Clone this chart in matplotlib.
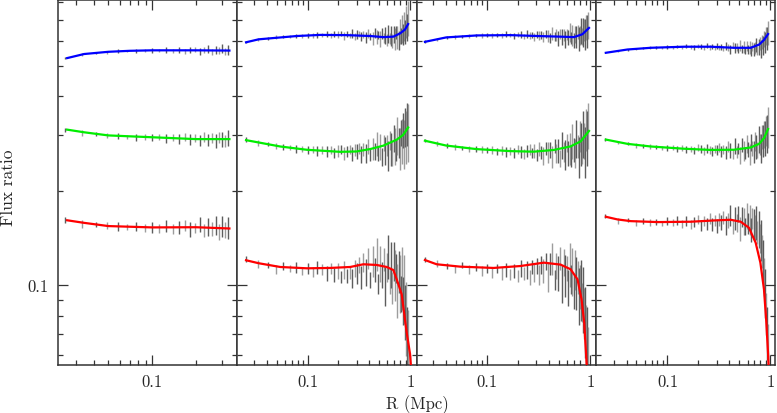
import matplotlib
matplotlib.use('Agg')
import matplotlib.pyplot as plt
import numpy as np
from matplotlib.ticker import LogLocator, NullFormatter, FuncFormatter

plt.rcParams['font.family'] = ['cmr10', 'DejaVu Serif']
plt.rcParams['axes.formatter.use_mathtext'] = True

# radial bins (Mpc); panel 1 only uses the first 25
R_BINS = [0.025, 0.033, 0.041, 0.049, 0.058, 0.067, 0.078, 0.089, 0.100,
          0.112, 0.125, 0.139, 0.153, 0.168, 0.183, 0.198, 0.213, 0.228, 0.243,
          0.258, 0.273, 0.288, 0.303, 0.318, 0.333,
          0.35, 0.37, 0.39, 0.41, 0.43, 0.45, 0.47, 0.49, 0.51, 0.53, 0.55,
          0.57, 0.59, 0.61, 0.63, 0.65, 0.67, 0.69, 0.71, 0.73, 0.75, 0.77,
          0.79, 0.81, 0.83, 0.85, 0.87, 0.89, 0.91, 0.93, 0.95]

# error half-size in dex (green scale), one list per panel
ERR_P1 = [0.007, 0.009, 0.006, 0.008, 0.010, 0.007, 0.011, 0.009, 0.012, 0.010, 0.014, 0.011, 0.015,
          0.013, 0.017, 0.012, 0.018, 0.015, 0.020, 0.016, 0.022, 0.018, 0.024, 0.019, 0.025]
ERR_P2 = [0.007, 0.009, 0.006, 0.010, 0.009, 0.008, 0.012, 0.010, 0.013, 0.011, 0.015, 0.012, 0.017,
          0.013, 0.016, 0.019, 0.014, 0.021, 0.017, 0.015, 0.022, 0.019, 0.024, 0.018, 0.026,
          0.021, 0.031, 0.024, 0.019, 0.035, 0.027, 0.038, 0.023, 0.041, 0.030, 0.026, 0.045, 0.033,
          0.049, 0.029, 0.052, 0.037, 0.044, 0.058, 0.034, 0.061, 0.048, 0.066, 0.041, 0.072, 0.055,
          0.078, 0.063, 0.085, 0.070, 0.092]
ERR_P3 = [0.006, 0.008, 0.007, 0.009, 0.007, 0.010, 0.009, 0.011, 0.010, 0.013, 0.011, 0.014, 0.016,
          0.012, 0.017, 0.014, 0.019, 0.015, 0.020, 0.017, 0.016, 0.022, 0.018, 0.023, 0.020,
          0.028, 0.020, 0.033, 0.025, 0.036, 0.022, 0.030, 0.039, 0.026, 0.043, 0.031, 0.047, 0.028,
          0.040, 0.051, 0.033, 0.055, 0.039, 0.046, 0.060, 0.037, 0.064, 0.050, 0.069, 0.044, 0.075,
          0.058, 0.081, 0.066, 0.088, 0.074]
ERR_P4 = [0.005, 0.006, 0.005, 0.007, 0.006, 0.008, 0.007, 0.006, 0.009, 0.008, 0.010, 0.009, 0.011,
          0.010, 0.012, 0.011, 0.013, 0.012, 0.014, 0.013, 0.015, 0.012, 0.016, 0.014, 0.017,
          0.015, 0.021, 0.017, 0.024, 0.016, 0.026, 0.020, 0.018, 0.028, 0.022, 0.031, 0.019, 0.029,
          0.024, 0.034, 0.027, 0.023, 0.036, 0.030, 0.039, 0.026, 0.042, 0.033, 0.046, 0.038, 0.050,
          0.043, 0.055, 0.048, 0.060, 0.065]
ERR_SCALE = {'blue': 0.6, 'green': 1.0, 'red': 1.4}

# measured flux ratios (bin centres)
P1_BLUE = [0.530, 0.543, 0.549, 0.553, 0.556, 0.557, 0.558, 0.559, 0.560, 0.559, 0.561, 0.558, 0.562,
           0.557, 0.561, 0.563, 0.556, 0.560, 0.565, 0.555, 0.562, 0.559, 0.566, 0.554, 0.561]
P1_GREEN = [0.312, 0.306, 0.303, 0.300, 0.298, 0.297, 0.296, 0.297, 0.295, 0.296, 0.294, 0.295, 0.292,
            0.296, 0.291, 0.294, 0.289, 0.297, 0.290, 0.295, 0.288, 0.296, 0.291, 0.287, 0.294]
P1_RED = [0.161, 0.157, 0.156, 0.155, 0.154, 0.153, 0.154, 0.152, 0.153, 0.152, 0.154, 0.151, 0.153,
          0.155, 0.150, 0.152, 0.156, 0.149, 0.153, 0.151, 0.155, 0.148, 0.154, 0.150, 0.152]

P2_BLUE = [0.595, 0.606, 0.611, 0.616, 0.619, 0.621, 0.623, 0.622, 0.626,
           0.624, 0.628, 0.626, 0.630, 0.623, 0.629, 0.627, 0.632, 0.621, 0.630, 0.625, 0.633, 0.619,
           0.628, 0.631, 0.620,
           0.629, 0.615, 0.634, 0.620, 0.612, 0.636, 0.618, 0.627, 0.608, 0.633, 0.614, 0.625, 0.603,
           0.630, 0.611, 0.622, 0.598, 0.628, 0.609, 0.637, 0.615, 0.602, 0.641, 0.622, 0.655, 0.630,
           0.668, 0.641, 0.690, 0.662, 0.706]
P2_GREEN = [0.291, 0.284, 0.281, 0.277, 0.276, 0.274, 0.272, 0.271, 0.270,
            0.271, 0.268, 0.270, 0.266, 0.269, 0.264, 0.268, 0.270, 0.263, 0.267, 0.271, 0.262, 0.269,
            0.266, 0.273, 0.261,
            0.270, 0.263, 0.276, 0.259, 0.272, 0.266, 0.281, 0.262, 0.275, 0.256, 0.284, 0.268, 0.279,
            0.258, 0.289, 0.271, 0.262, 0.293, 0.277, 0.268, 0.298, 0.283, 0.272, 0.305, 0.287, 0.311,
            0.280, 0.318, 0.296, 0.325, 0.305]
P2_RED = [0.121, 0.117, 0.116, 0.112, 0.115, 0.113, 0.114, 0.111, 0.113,
          0.110, 0.114, 0.112, 0.109, 0.113, 0.108, 0.111, 0.106, 0.112, 0.107, 0.110, 0.105, 0.113,
          0.109, 0.116, 0.106,
          0.118, 0.110, 0.122, 0.104, 0.119, 0.112, 0.125, 0.101, 0.117, 0.108, 0.121, 0.099, 0.114,
          0.123, 0.103, 0.116, 0.098, 0.119, 0.107, 0.113, 0.096, 0.110, 0.101, 0.094, 0.105, 0.089,
          0.097, 0.082, 0.078, 0.068, 0.062]

P3_BLUE = [0.597, 0.607, 0.614, 0.618, 0.621, 0.622, 0.625, 0.624, 0.627,
           0.625, 0.628, 0.624, 0.630, 0.626, 0.622, 0.629, 0.627, 0.620, 0.631, 0.624, 0.628, 0.619,
           0.630, 0.623, 0.626,
           0.617, 0.631, 0.622, 0.613, 0.634, 0.620, 0.626, 0.610, 0.632, 0.618, 0.627, 0.606, 0.629,
           0.615, 0.637, 0.612, 0.624, 0.603, 0.630, 0.617, 0.640, 0.609, 0.626, 0.645, 0.620, 0.638,
           0.651, 0.628, 0.662, 0.643, 0.672]
P3_GREEN = [0.289, 0.283, 0.279, 0.276, 0.274, 0.272, 0.271, 0.270, 0.269,
            0.270, 0.267, 0.269, 0.265, 0.268, 0.264, 0.270, 0.266, 0.262, 0.268, 0.271, 0.263, 0.267,
            0.260, 0.272, 0.265,
            0.258, 0.273, 0.264, 0.270, 0.256, 0.277, 0.262, 0.268, 0.253, 0.279, 0.266, 0.260, 0.284,
            0.263, 0.271, 0.257, 0.287, 0.270, 0.262, 0.292, 0.276, 0.255, 0.297, 0.281, 0.270, 0.302,
            0.288, 0.265, 0.312, 0.294, 0.322]
P3_RED = [0.121, 0.117, 0.115, 0.113, 0.116, 0.112, 0.114, 0.111, 0.113,
          0.110, 0.113, 0.109, 0.112, 0.108, 0.111, 0.107, 0.113, 0.109, 0.112, 0.106, 0.114, 0.110,
          0.115, 0.108, 0.116,
          0.111, 0.119, 0.106, 0.117, 0.121, 0.104, 0.115, 0.109, 0.122, 0.101, 0.118, 0.107, 0.113,
          0.098, 0.116, 0.104, 0.110, 0.095, 0.112, 0.101, 0.106, 0.092, 0.099, 0.096, 0.088, 0.090,
          0.081, 0.076, 0.070, 0.064, 0.058]

P4_BLUE = [0.551, 0.557, 0.563, 0.566, 0.569, 0.570, 0.572, 0.571, 0.574,
           0.573, 0.576, 0.572, 0.577, 0.574, 0.571, 0.578, 0.575, 0.570, 0.579, 0.573, 0.576, 0.569,
           0.578, 0.572, 0.575,
           0.568, 0.579, 0.571, 0.564, 0.582, 0.569, 0.574, 0.561, 0.580, 0.566, 0.575, 0.559, 0.578,
           0.565, 0.573, 0.556, 0.577, 0.563, 0.570, 0.582, 0.559, 0.574, 0.588, 0.566, 0.595, 0.580,
           0.607, 0.592, 0.620, 0.611, 0.636]
P4_GREEN = [0.291, 0.285, 0.282, 0.279, 0.277, 0.276, 0.275, 0.274, 0.273,
            0.274, 0.272, 0.273, 0.270, 0.272, 0.269, 0.274, 0.271, 0.268, 0.273, 0.270, 0.267, 0.272,
            0.269, 0.275, 0.266,
            0.271, 0.264, 0.276, 0.268, 0.262, 0.278, 0.266, 0.273, 0.259, 0.279, 0.268, 0.263, 0.282,
            0.270, 0.261, 0.284, 0.273, 0.266, 0.287, 0.276, 0.269, 0.291, 0.280, 0.272, 0.296, 0.288,
            0.301, 0.293, 0.309, 0.303, 0.318]
P4_RED = [0.166, 0.160, 0.161, 0.158, 0.160, 0.158, 0.159, 0.157, 0.160,
          0.158, 0.161, 0.157, 0.160, 0.156, 0.159, 0.162, 0.155, 0.160, 0.157, 0.163, 0.156, 0.161,
          0.154, 0.162, 0.158,
          0.164, 0.155, 0.161, 0.167, 0.153, 0.163, 0.158, 0.169, 0.151, 0.165, 0.160, 0.154, 0.166,
          0.157, 0.161, 0.150, 0.163, 0.156, 0.152, 0.158, 0.147, 0.150, 0.141, 0.139, 0.128, 0.119,
          0.106, 0.094, 0.081, 0.070, 0.061]

# model curves: radius nodes and values
FIT_P1_BLUE_R = [0.026, 0.034, 0.05, 0.07, 0.1, 0.2, 0.34]
FIT_P1_BLUE = [0.529, 0.545, 0.554, 0.558, 0.560, 0.560, 0.559]
FIT_P1_GREEN_R = [0.026, 0.034, 0.05, 0.1, 0.2, 0.34]
FIT_P1_GREEN = [0.313, 0.307, 0.300, 0.296, 0.292, 0.292]
FIT_P1_RED_R = [0.026, 0.034, 0.05, 0.1, 0.2, 0.34]
FIT_P1_RED = [0.161, 0.158, 0.1543, 0.1528, 0.153, 0.1516]

FIT_P2_BLUE_R = [0.0252, 0.0334, 0.0789, 0.133, 0.241, 0.406, 0.547, 0.684, 0.795, 0.888, 0.953]
FIT_P2_BLUE = [0.594, 0.607, 0.622, 0.627, 0.626, 0.622, 0.617, 0.619, 0.634, 0.652, 0.679]
FIT_P2_GREEN_R = [0.0252, 0.0334, 0.0543, 0.0987, 0.208, 0.30, 0.406, 0.547, 0.738, 0.855, 0.953]
FIT_P2_GREEN = [0.2898, 0.2849, 0.2766, 0.270, 0.266, 0.2667, 0.2714, 0.2783, 0.2908, 0.3014, 0.318]
FIT_P2_RED_R = [0.0252, 0.0334, 0.0543, 0.0987, 0.166, 0.26, 0.35, 0.472, 0.59, 0.684, 0.738,
                0.825, 0.922, 0.995, 1.02]
FIT_P2_RED = [0.1201, 0.1175, 0.1143, 0.1132, 0.1135, 0.1143, 0.1166, 0.116, 0.1143, 0.1118, 0.1044,
              0.0936, 0.0708, 0.0604, 0.054]

FIT_P3_BLUE_R = [0.0252, 0.0404, 0.08, 0.168, 0.306, 0.515, 0.693, 0.835, 0.968]
FIT_P3_BLUE = [0.596, 0.6156, 0.6246, 0.626, 0.622, 0.619, 0.617, 0.630, 0.660]
FIT_P3_GREEN_R = [0.0252, 0.0404, 0.08, 0.168, 0.283, 0.443, 0.643, 0.806, 0.968]
FIT_P3_GREEN = [0.2886, 0.2785, 0.2713, 0.2674, 0.2663, 0.2697, 0.2768, 0.2873, 0.310]
FIT_P3_RED_R = [0.0252, 0.0327, 0.0551, 0.116, 0.21, 0.355, 0.515, 0.643, 0.75, 0.82, 0.87, 0.915, 0.93]
FIT_P3_RED = [0.1203, 0.1166, 0.1146, 0.1135, 0.1151, 0.118, 0.1163, 0.1124, 0.1044, 0.0903, 0.0761,
              0.0575, 0.052]

FIT_P4_BLUE_R = [0.0252, 0.0409, 0.0689, 0.145, 0.263, 0.443, 0.644, 0.777, 0.867, 0.95]
FIT_P4_BLUE = [0.550, 0.5634, 0.5705, 0.575, 0.575, 0.5705, 0.5705, 0.584, 0.604, 0.631]
FIT_P4_GREEN_R = [0.0252, 0.0409, 0.0689, 0.145, 0.263, 0.443, 0.644, 0.777, 0.867, 0.95]
FIT_P4_GREEN = [0.291, 0.282, 0.2766, 0.2721, 0.2697, 0.2701, 0.2746, 0.282, 0.2938, 0.3144]
FIT_P4_RED_R = [0.0252, 0.0327, 0.044, 0.08, 0.168, 0.284, 0.412, 0.515, 0.62, 0.72, 0.80, 0.867,
                0.91, 0.953, 0.965]
FIT_P4_RED = [0.1652, 0.162, 0.160, 0.1589, 0.1593, 0.1608, 0.1616, 0.1593, 0.1524, 0.1366, 0.118,
              0.0971, 0.078, 0.0597, 0.054]

XLIMS = [(0.0225, 0.385), (0.0207, 1.15), (0.0209, 1.125), (0.0201, 1.11)]
YLIM = (0.0557, 0.81)
LINE_COLORS = {'blue': '#0000ff', 'green': '#00ee00', 'red': '#ff0000'}
BAR_SHADES = ['0.25', '0.55']

panels = [
    (ERR_P1, {'blue': P1_BLUE, 'green': P1_GREEN, 'red': P1_RED},
     {'blue': (FIT_P1_BLUE_R, FIT_P1_BLUE), 'green': (FIT_P1_GREEN_R, FIT_P1_GREEN),
      'red': (FIT_P1_RED_R, FIT_P1_RED)}),
    (ERR_P2, {'blue': P2_BLUE, 'green': P2_GREEN, 'red': P2_RED},
     {'blue': (FIT_P2_BLUE_R, FIT_P2_BLUE), 'green': (FIT_P2_GREEN_R, FIT_P2_GREEN),
      'red': (FIT_P2_RED_R, FIT_P2_RED)}),
    (ERR_P3, {'blue': P3_BLUE, 'green': P3_GREEN, 'red': P3_RED},
     {'blue': (FIT_P3_BLUE_R, FIT_P3_BLUE), 'green': (FIT_P3_GREEN_R, FIT_P3_GREEN),
      'red': (FIT_P3_RED_R, FIT_P3_RED)}),
    (ERR_P4, {'blue': P4_BLUE, 'green': P4_GREEN, 'red': P4_RED},
     {'blue': (FIT_P4_BLUE_R, FIT_P4_BLUE), 'green': (FIT_P4_GREEN_R, FIT_P4_GREEN),
      'red': (FIT_P4_RED_R, FIT_P4_RED)}),
]

fig, axes = plt.subplots(1, 4, figsize=(7.77, 4.14), dpi=100, sharey=True)
fig.subplots_adjust(left=58/777, right=775/777, bottom=1-366/414, top=1-1/414, wspace=0)

fmt = FuncFormatter(lambda v, p: '%g' % v)

for i, (ax, (err, meas, fits)) in enumerate(zip(axes, panels)):
    ax.set_xscale('log')
    ax.set_yscale('log')
    for name in ['blue', 'green', 'red']:
        c = np.array(meas[name])
        r = np.array(R_BINS[:len(c)])
        e = np.array(err[:len(c)]) * ERR_SCALE[name]
        shades = [BAR_SHADES[k % 2] for k in range(len(c))]
        ax.vlines(r, c * 10**(-e), c * 10**e, colors=shades, alpha=0.85, lw=1.0, zorder=2)
    for name in ['blue', 'green', 'red']:
        fr, fv = fits[name]
        ax.plot(fr, fv, color=LINE_COLORS[name], lw=1.6, zorder=3)

    ax.set_xlim(*XLIMS[i])
    ax.set_ylim(*YLIM)
    for axis in (ax.xaxis, ax.yaxis):
        axis.set_major_locator(LogLocator(base=10, numticks=10))
        axis.set_minor_locator(LogLocator(base=10, subs=np.arange(2, 10), numticks=20))
        axis.set_major_formatter(fmt)
        axis.set_minor_formatter(NullFormatter())
    ax.tick_params(which='both', direction='in', top=True, right=True, colors='0.2',
                   labelcolor='0.15', labelsize=12, width=0.9)
    ax.tick_params(which='major', length=7)
    ax.tick_params(which='minor', length=3.8)
    ax.tick_params(axis='x', pad=6)
    ax.tick_params(axis='y', pad=7)
    if i > 0:
        ax.tick_params(axis='y', labelleft=False)
    for s in ax.spines.values():
        s.set_color('0.2')
        s.set_linewidth(1.1)

fig.text(0.537, 0.022, 'R (Mpc)', ha='center', va='center', fontsize=12, color='0.15')
fig.text(0.011, 0.546, 'Flux ratio', ha='center', va='center', rotation=90, fontsize=12.5,
         color='0.15')

fig.savefig('out.png', dpi=100)
